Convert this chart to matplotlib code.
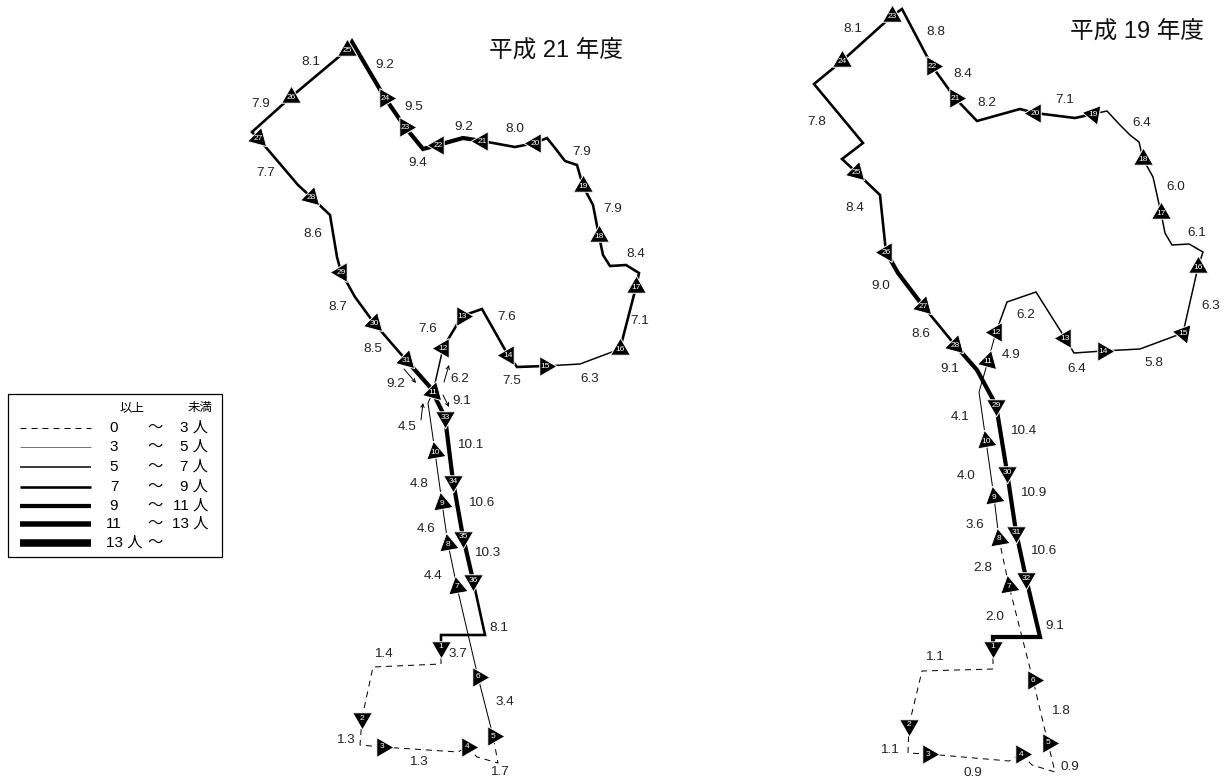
import numpy as np
import matplotlib
matplotlib.use("Agg")
import matplotlib.pyplot as plt
from matplotlib.patches import Rectangle

plt.rcParams['font.family'] = ['Liberation Sans', 'Noto Sans CJK JP', 'DejaVu Sans']

# Route 21: nodes along the line, stop number or 0 for a plain bend
h21_stop = [1, 0, 0, 2, 0, 3, 0, 4, 0, 0, 5, 6, 7, 8, 9, 10, 0, 11, 12, 13, 0, 14, 0, 15, 0, 16, 17, 0, 0, 0, 0,
            18, 0, 19, 0, 0, 0, 0, 20, 0, 21, 0, 22, 0, 23, 24, 0, 25, 26, 0, 27, 0, 28, 0, 0, 29, 0, 30, 31,
            0, 33, 34, 35, 36, 0, 0, 1]
h21_x = [441, 441, 373, 362, 360, 382, 458, 467, 477, 498, 493, 478, 457, 448, 442, 435, 428, 433, 443, 462, 482,
         508, 517, 545, 580, 620, 636, 639, 626, 610, 603, 599, 593, 583, 577, 565, 555, 547, 535, 515, 482, 463,
         438, 423, 405, 385, 352, 347, 291, 252, 258, 298, 311, 330, 337, 341, 355, 374, 406, 430, 445, 453, 463,
         473, 485, 441, 441]
h21_y = [647, 664, 667, 718, 745, 747, 752, 747, 757, 763, 736, 677, 587, 544, 503, 452, 403, 392, 348, 316, 309,
         355, 367, 366, 364, 349, 287, 273, 265, 266, 255, 236, 205, 186, 165, 161, 148, 138, 143, 147, 141, 138,
         145, 149, 127, 98, 42, 50, 97, 132, 138, 185, 197, 215, 257, 272, 297, 323, 360, 387, 417, 481, 537,
         580, 635, 635, 647]
# pupils per section, one value per stop reached in order
h21_values = [1.4, 1.3, 1.3, 1.7, 3.4, 3.7, 4.4, 4.6, 4.8, 4.5, 6.2, 7.6, 7.6, 7.5, 6.3, 7.1, 8.4, 7.9, 7.9, 8.0,
              9.2, 9.4, 9.5, 9.2, 8.1, 7.9, 7.7, 8.6, 8.7, 8.5, 9.2, 10.1, 10.6, 10.3, 8.1]
h21_angle = {1: -90, 2: -90, 3: 0, 4: 0, 5: 0, 6: 0, 7: 100, 8: 100, 9: 100, 10: 100, 11: 75, 12: 180, 13: 0,
             14: 180, 15: 0, 16: 90, 17: 90, 18: 90, 19: 90, 20: 180, 21: 180, 22: 180, 23: 0, 24: 0, 25: 90,
             26: 90, 27: 75, 28: 75, 29: 180, 30: 75, 31: 75, 33: -90, 34: -90, 35: -90, 36: -90}
h21_label = ["8.1", "9.2", "7.9", "9.5", "9.2", "8.0", "7.9", "9.4", "7.7", "7.9", "8.6", "8.4", "8.7", "7.6",
             "7.6", "7.1", "8.5", "6.2", "7.5", "6.3", "9.2", "9.1", "4.5", "10.1", "4.8", "10.6", "4.6", "10.3",
             "4.4", "8.1", "3.7", "1.4", "3.4", "1.3", "1.3", "1.7"]
h21_label_x = [311, 385, 261, 414, 464, 515, 582, 418, 266, 613, 313, 636, 338, 507, 428, 640, 373, 460, 512, 590,
               396, 462, 407, 470, 419, 481, 426, 487, 433, 499, 458, 383, 505, 345, 418, 499]
h21_label_y = [62, 65, 104, 107, 127, 129, 152, 163, 173, 209, 234, 254, 307, 317, 329, 321, 349, 379, 381, 379,
               384, 401, 427, 445, 484, 503, 529, 553, 576, 628, 654, 654, 702, 740, 762, 772]
# small arrows around stop 11
h21_arrow_from = [(404, 369), (444, 382), (443, 395), (421, 420)]
h21_arrow_to = [(416, 383), (449, 365), (449, 407), (423, 403)]

# Route 19
h19_stop = [1, 0, 0, 2, 0, 3, 0, 4, 0, 0, 5, 6, 7, 8, 9, 10, 0, 11, 12, 0, 0, 13, 0, 14, 0, 15, 16, 0, 0, 0, 0,
            17, 0, 18, 0, 0, 0, 0, 19, 0, 20, 0, 0, 21, 22, 0, 23, 24, 0, 0, 0, 25, 0, 26, 0, 27, 28, 0, 29, 30,
            31, 32, 0, 0, 1]
h19_x = [993, 993, 922, 909, 908, 928, 1009, 1021, 1032, 1055, 1048, 1033, 1009, 999, 994, 986, 979, 988, 996,
         1007, 1036, 1065, 1074, 1103, 1140, 1183, 1198, 1203, 1189, 1172, 1165, 1161, 1153, 1143, 1139, 1130,
         1120, 1107, 1093, 1075, 1035, 1020, 977, 955, 932, 902, 892, 842, 814, 863, 842, 856, 880, 886, 898,
         923, 955, 977, 996, 1007, 1016, 1026, 1040, 993, 993]
h19_y = [647, 669, 671, 725, 753, 754, 761, 754, 765, 772, 743, 680, 586, 539, 497, 441, 392, 361, 332, 302, 292,
         338, 353, 351, 349, 333, 267, 252, 244, 245, 233, 213, 177, 159, 142, 135, 125, 111, 114, 118, 113, 109,
         121, 98, 66, 9, 16, 61, 84, 143, 159, 172, 195, 252, 273, 306, 345, 370, 405, 472, 532, 578, 637, 637,
         647]
h19_values = [1.1, 1.1, 0.9, 0.9, 1.8, 2.0, 2.8, 3.6, 4.0, 4.1, 4.9, 6.2, 6.4, 5.8, 6.3, 6.1, 6.0, 6.4, 7.1, 8.2,
              8.4, 8.8, 8.1, 7.8, 8.4, 9.0, 8.6, 9.1, 10.4, 10.9, 10.6, 9.1]
h19_angle = {1: -90, 2: -90, 3: 0, 4: 0, 5: 0, 6: 0, 7: 100, 8: 100, 9: 100, 10: 100, 11: 75, 12: 180, 13: 180,
             14: 0, 15: 170, 16: 90, 17: 90, 18: 90, 19: 170, 20: 180, 21: 0, 22: 0, 23: 90, 24: 90, 25: 75,
             26: 180, 27: 75, 28: 75, 29: -90, 30: -90, 31: -90, 32: -90}
h19_label = ["8.1", "8.8", "8.4", "8.2", "7.1", "6.4", "7.8", "6.0", "8.4", "6.1", "9.0", "6.3", "6.2", "8.6",
             "4.9", "6.4", "5.8", "9.1", "4.1", "10.4", "4.0", "10.9", "3.6", "10.6", "2.8", "2.0", "9.1", "1.1",
             "1.8", "1.1", "0.9", "0.9"]
h19_label_x = [853, 936, 963, 987, 1065, 1142, 817, 1176, 855, 1197, 881, 1211, 1026, 921, 1011, 1077, 1154, 950,
               960, 1023, 966, 1033, 975, 1043, 983, 995, 1055, 934, 1060, 889, 973, 1070]
h19_label_y = [29, 32, 74, 103, 100, 123, 122, 187, 208, 233, 286, 306, 315, 334, 355, 369, 363, 369, 417, 431,
               476, 493, 525, 551, 568, 617, 626, 657, 711, 750, 773, 767]

# Legend
class_edges = [3, 5, 7, 9, 11, 13]
class_widths_px = [1.0, 1.0, 1.5, 2.6, 4.2, 5.5, 7.5]
legend_from = ["0", "3", "5", "7", "9", "11", "13 人"]
legend_to = ["3 人", "5 人", "7 人", "9 人", "11 人", "13 人", ""]
legend_y = [428, 447, 467, 487, 506, 524, 543]

fig = plt.figure(figsize=(12.32, 7.79), dpi=100)
ax = fig.add_axes([0, 0, 1, 1])
ax.set_xlim(0, 1232)
ax.set_ylim(779, 0)
ax.axis("off")


def section_style(value):
    i = int(np.digitize(value, class_edges))
    style = dict(color="black", lw=class_widths_px[i] * 0.72)
    if i == 0:
        style["dashes"] = (6, 5)
        style["dash_capstyle"] = "butt"
    else:
        style["solid_joinstyle"] = "miter"
    return style


def draw_route(stops, xs, ys, values, angles):
    # lines first, one piece per section between two stops
    start = 0
    k = 0
    for i in range(1, len(stops)):
        if stops[i] != 0:
            ax.plot(xs[start:i + 1], ys[start:i + 1], zorder=2, **section_style(values[k]))
            start = i
            k += 1
    for s, x, y in zip(stops[:-1], xs[:-1], ys[:-1]):
        if s == 0:
            continue
        ax.plot([x], [y], marker=(3, 0, angles[s] - 90), ms=16.5, mfc="black", mec="white", mew=0.7,
                ls="none", zorder=3)
        ax.text(x, y, str(s), color="white", fontsize=6, ha="center", va="center", zorder=4)


def draw_labels(labels, xs, ys):
    for t, x, y in zip(labels, xs, ys):
        ax.text(x, y, t, fontsize=9.7, color="#222222", ha="center", va="center")


draw_route(h21_stop, h21_x, h21_y, h21_values, h21_angle)
draw_route(h19_stop, h19_x, h19_y, h19_values, h19_angle)
draw_labels(h21_label, h21_label_x, h21_label_y)
draw_labels(h19_label, h19_label_x, h19_label_y)

for a, b in zip(h21_arrow_from, h21_arrow_to):
    ax.annotate("", xy=b, xytext=a, arrowprops=dict(arrowstyle="->", lw=0.7, color="black", mutation_scale=6,
                                                    shrinkA=0, shrinkB=0))

ax.text(556, 52, "平成 21 年度", fontsize=17, ha="center", va="center", color="#111111")
ax.text(1137, 33, "平成 19 年度", fontsize=17, ha="center", va="center", color="#111111")

# legend box
ax.add_patch(Rectangle((8, 394), 214, 163, fc="white", ec="black", lw=0.9, zorder=1))
ax.text(132, 408, "以上", fontsize=9, ha="center", va="center")
ax.text(200, 408, "未満", fontsize=9, ha="center", va="center")
for i, y in enumerate(legend_y):
    style = dict(color="black", lw=class_widths_px[i] * 0.72)
    if i == 0:
        style["dashes"] = (6, 5)
    if i == 1:
        style["color"] = "#777777"
    ax.plot([20, 91], [y, y], solid_capstyle="butt", **style)
    if i < 6:
        ax.text(114, y, legend_from[i], fontsize=11, ha="center", va="center")
        ax.text(208, y, legend_to[i], fontsize=11, ha="right", va="center")
        ax.text(155, y, "〜", fontsize=11, ha="center", va="center")
    else:
        ax.text(106, y, legend_from[i], fontsize=11, ha="left", va="center")
        ax.text(155, y, "〜", fontsize=11, ha="center", va="center")

fig.savefig("out.png", dpi=100)
